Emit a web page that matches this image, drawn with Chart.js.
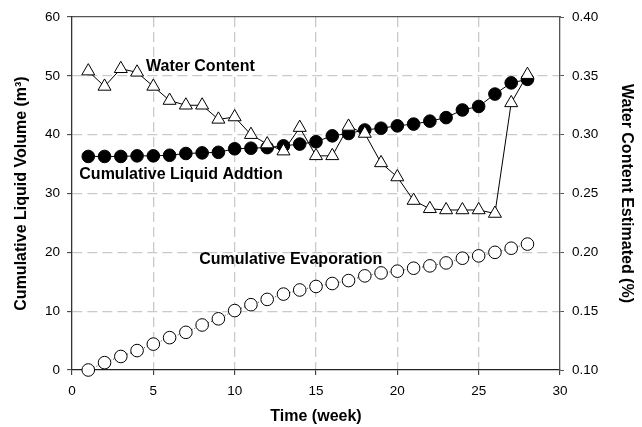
<!DOCTYPE html>
<html>
<head>
<meta charset="utf-8">
<script src="https://cdn.jsdelivr.net/npm/chart.js@4.4.1/dist/chart.umd.min.js"></script>
<style>
    html, body { margin: 0; padding: 0; background: #fff; }
    #wrap { width: 642px; height: 427px; }
</style>
</head>
<body>
<div id="wrap"><canvas id="chart"></canvas></div>
<script>
// weeks 1..28
const weeks = [1, 2, 3, 4, 5, 6, 7, 8, 9, 10, 11, 12, 13, 14, 15, 16, 17, 18, 19, 20, 21, 22, 23, 24, 25, 26, 27, 28];

// Water Content Estimated (%), right axis
const waterContent = [0.354, 0.341, 0.356, 0.353, 0.341, 0.329, 0.325, 0.325, 0.313, 0.315,
    0.300, 0.292, 0.286, 0.306, 0.282, 0.282, 0.307, 0.301, 0.276, 0.264,
    0.244, 0.237, 0.236, 0.236, 0.236, 0.233, 0.327, 0.351];

// Cumulative Liquid Addition (m3), left axis
const liquidAddition = [36.3, 36.3, 36.3, 36.4, 36.4, 36.5, 36.8, 36.9, 37.0, 37.6,
    37.7, 37.8, 38.1, 38.4, 38.8, 39.8, 40.2, 40.8, 41.1, 41.5,
    41.8, 42.3, 42.9, 44.2, 44.8, 46.9, 48.8, 49.4];

// Cumulative Evaporation (m3), left axis
const evaporation = [0.0, 1.25, 2.3, 3.3, 4.4, 5.5, 6.4, 7.65, 8.7, 10.1,
    11.1, 12.0, 12.9, 13.6, 14.2, 14.7, 15.2, 16.0, 16.5, 16.8,
    17.3, 17.7, 18.2, 19.0, 19.4, 20.0, 20.7, 21.4];

// text labels inside the plot, in data units (week, left axis value)
const labelTexts = ['Water Content', 'Cumulative Liquid Addtion', 'Cumulative Evaporation'];
const labelWeeks = [4.55, 0.45, 7.82];
const labelValues = [51.5, 33.15, 18.8];

const FONT = 'Liberation Sans, Arial, Helvetica, sans-serif';
const TICK_FONT = { family: FONT, size: 13.5 };
const TITLE_FONT = { family: FONT, size: 16, weight: 'bold' };

const toPoints = (ys) => weeks.map((w, i) => ({ x: w, y: ys[i] }));

// hide gridlines that sit on the plot frame
function innerGrid(min, max) {
    return (ctx) => {
        const v = ctx.tick ? ctx.tick.value : null;
        if (v === null || Math.abs(v - min) < 1e-9 || Math.abs(v - max) < 1e-9) {
            return 'rgba(0,0,0,0)';
        }
        return '#cacaca';
    };
}

const seriesLabels = {
    id: 'seriesLabels',
    afterDatasetsDraw(chart) {
        const { ctx, scales } = chart;
        ctx.save();
        ctx.font = 'bold 16px ' + FONT;
        ctx.fillStyle = '#000';
        ctx.textAlign = 'left';
        ctx.textBaseline = 'middle';
        labelTexts.forEach((t, i) => {
            ctx.fillText(t, scales.x.getPixelForValue(labelWeeks[i]), scales.y.getPixelForValue(labelValues[i]));
        });
        ctx.restore();
    }
};

new Chart(document.getElementById('chart'), {
    type: 'line',
    data: {
        datasets: [
            {
                label: 'Water Content',
                data: toPoints(waterContent),
                yAxisID: 'y2',
                borderColor: '#000',
                borderWidth: 1,
                pointStyle: 'triangle',
                pointRadius: 7.5,
                pointBackgroundColor: '#fff',
                pointBorderColor: '#000',
                pointBorderWidth: 1,
                tension: 0,
                clip: false
            },
            {
                label: 'Cumulative Liquid Addtion',
                data: toPoints(liquidAddition),
                yAxisID: 'y',
                borderColor: '#000',
                borderWidth: 1,
                pointStyle: 'circle',
                pointRadius: 6.3,
                pointBackgroundColor: '#000',
                pointBorderColor: '#000',
                pointBorderWidth: 1,
                tension: 0,
                clip: false
            },
            {
                label: 'Cumulative Evaporation',
                data: toPoints(evaporation),
                yAxisID: 'y',
                borderColor: '#444',
                borderWidth: 1,
                borderDash: [1, 2],
                pointStyle: 'circle',
                pointRadius: 6.3,
                pointBackgroundColor: '#fff',
                pointBorderColor: '#000',
                pointBorderWidth: 1,
                tension: 0,
                clip: false
            }
        ]
    },
    options: {
        responsive: true,
        maintainAspectRatio: false,
        animation: false,
        layout: { padding: { top: 17, left: 0, right: 0, bottom: 0 } },
        plugins: {
            legend: { display: false },
            tooltip: { enabled: false }
        },
        scales: {
            x: {
                type: 'linear',
                min: 0,
                max: 30,
                afterFit: (s) => { s.height = 57; },
                ticks: {
                    stepSize: 5,
                    padding: 8,
                    color: '#000',
                    font: TICK_FONT,
                    maxRotation: 0
                },
                grid: {
                    color: innerGrid(0, 30),
                    lineWidth: 1.3,
                    tickLength: 5,
                    tickColor: '#222',
                    tickWidth: 1
                },
                border: { display: true, color: '#222', width: 1.3, dash: [10, 5] },
                title: {
                    display: true,
                    text: 'Time (week)',
                    color: '#000',
                    font: TITLE_FONT,
                    padding: { top: 0, bottom: 1 }
                }
            },
            // frame line along the top of the plot
            xTop: {
                type: 'linear',
                position: 'top',
                min: 0,
                max: 30,
                afterFit: (s) => { s.height = 0; },
                ticks: { display: false },
                grid: { drawOnChartArea: false, drawTicks: false },
                border: { display: true, color: '#555', width: 1.3 }
            },
            y: {
                position: 'left',
                min: 0,
                max: 60,
                afterFit: (s) => { s.width = 72; },
                ticks: {
                    stepSize: 10,
                    padding: 7,
                    color: '#000',
                    font: TICK_FONT
                },
                grid: {
                    color: innerGrid(0, 60),
                    lineWidth: 1.3,
                    tickLength: 5,
                    tickColor: '#333',
                    tickWidth: 1
                },
                border: { display: true, color: '#333', width: 1.3, dash: [10, 5] },
                title: {
                    display: true,
                    text: 'Cumulative Liquid Volume (m³)',
                    color: '#000',
                    font: TITLE_FONT,
                    padding: { top: 12, bottom: 0 }
                }
            },
            y2: {
                position: 'right',
                min: 0.1,
                max: 0.4,
                afterFit: (s) => { s.width = 82; },
                ticks: {
                    count: 7,
                    padding: 8,
                    color: '#000',
                    font: TICK_FONT,
                    callback: (v) => Number(v).toFixed(2)
                },
                grid: {
                    drawOnChartArea: false,
                    tickLength: 4,
                    tickColor: '#555',
                    tickWidth: 1
                },
                border: { display: true, color: '#555', width: 1.3 },
                title: {
                    display: true,
                    text: 'Water Content Estimated (%)',
                    color: '#000',
                    font: TITLE_FONT,
                    padding: { top: 6, bottom: 0 }
                }
            }
        }
    },
    plugins: [seriesLabels]
});
</script>
</body>
</html>
